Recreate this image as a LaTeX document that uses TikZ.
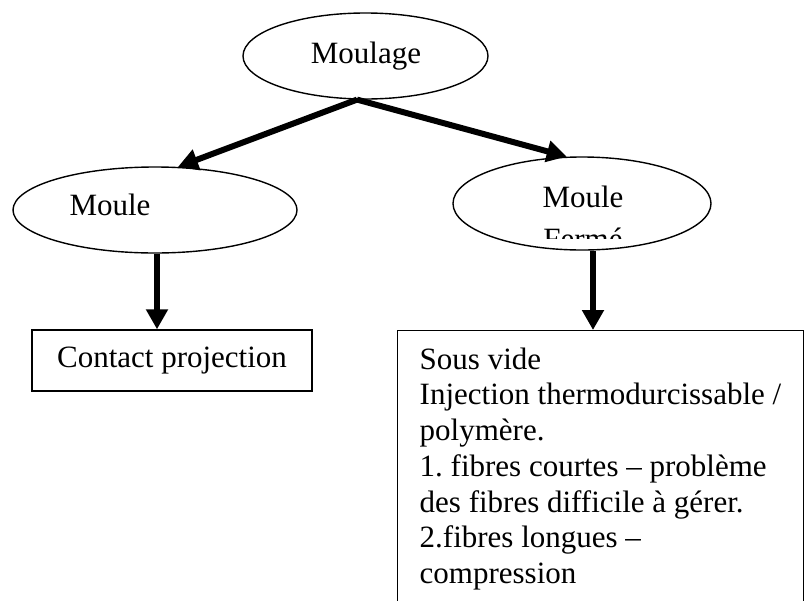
\documentclass[tikz,border=0pt]{standalone}
\usepackage{fontspec}
\setmainfont{Liberation Serif}
\usetikzlibrary{shapes.geometric,arrows.meta}
\begin{document}
\frenchspacing
\begin{tikzpicture}[x=1pt,y=-1pt,
    font=\fontsize{31}{35.7}\selectfont,
    mould/.style={draw,ellipse,line width=1.4pt,inner sep=0pt},
    boite/.style={draw,rectangle,line width=1.4pt},
    fleche/.style={line width=6pt,-{Triangle[length=20pt,width=21pt]}}]
    \useasboundingbox[fill=white] (0,0) rectangle (811,600);
    \clip (0,0) rectangle (811,600);

    % ellipses
    \node[mould,minimum width=245pt,minimum height=86pt] (moulage) at (365.5,56) {};
    \node[mould,minimum width=284pt,minimum height=86pt] (ouvert) at (155,210) {};
    \node[mould,minimum width=258pt,minimum height=93pt] (ferme) at (582,203.5) {};
    \node[anchor=base] (moulagetxt) at (366,63) {Moulage};
    \node[anchor=base] (ouverttxt) at (110,215) {Moule};
    \node[anchor=base] (fermetxt) at (583,207) {Moule};
    \begin{scope}
      \clip (453,150) rectangle (711,238);
      \node[anchor=base] (fermetxtb) at (583,249) {Fermé};
    \end{scope}

    % boites
    \node[boite,minimum width=280pt,minimum height=61pt] (contact) at (172,360.5) {Contact projection};
    \node[boite,anchor=north west,inner xsep=22pt,inner ysep=17pt,align=left] (vide) at (397,330)
      {Sous vide\\ Injection thermodurcissable /\\ polymère.\\ 1. fibres courtes – problème\\ des fibres difficile à gérer.\\ 2.fibres longues –\\ compression};

    % fleches
    \draw[fleche] (moulage.259) -- (ouvert.62);
    \draw[fleche] (moulage.259) -- (ferme.108);
    \coordinate (chuteg) at ([xshift=2pt]ouvert.south);
    \coordinate (chuted) at ([xshift=11pt]ferme.south);
    \draw[fleche] (chuteg) -- (chuteg |- contact.north);
    \draw[fleche] (chuted) -- (chuted |- vide.north);
\end{tikzpicture}
\end{document}
